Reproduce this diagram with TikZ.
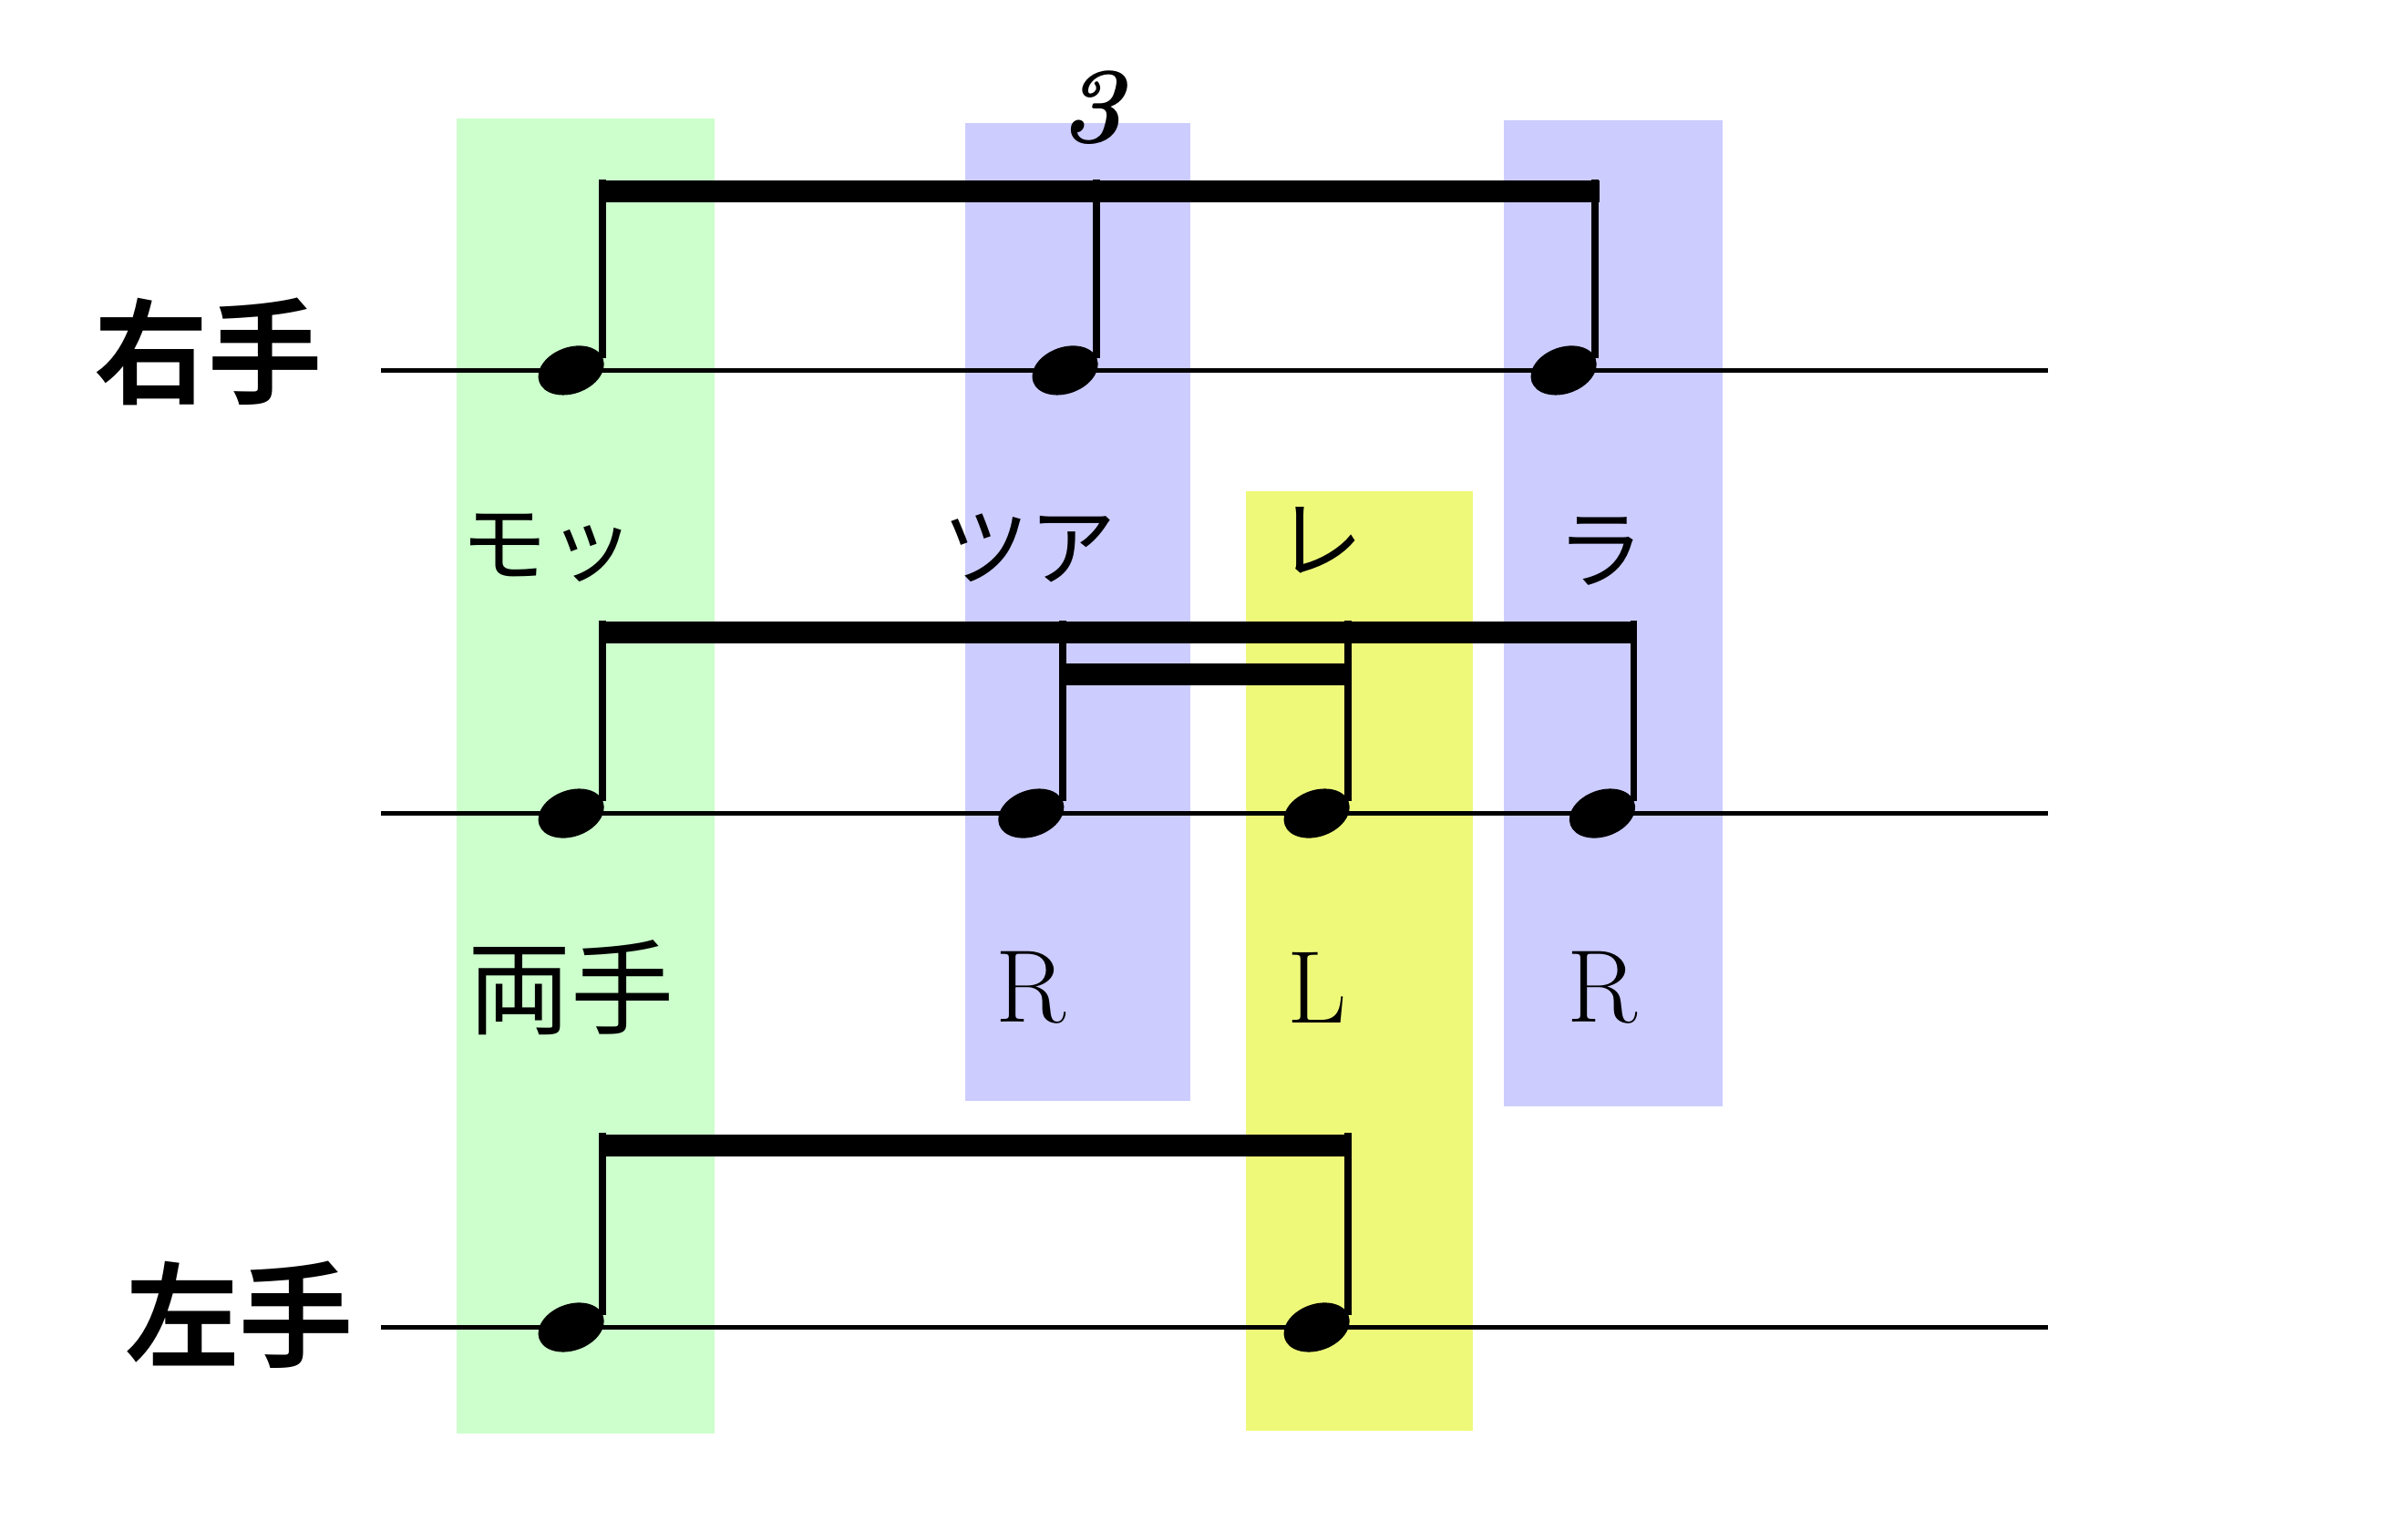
\documentclass[tikz,border=0pt]{standalone}
\usepackage{fontspec}
\newfontfamily\jpfont{Noto Sans CJK JP}
\newfontfamily\jpbold{Noto Sans CJK JP Bold}
\usetikzlibrary{shapes.geometric,positioning,calc}
\definecolor{greenband}{HTML}{CCFFCC}
\definecolor{blueband}{HTML}{CCCCFF}
\definecolor{yellowband}{HTML}{EEF97A}
\tikzset{
  notehead/.style={ellipse, fill=black, minimum width=0.44cm, minimum height=0.3cm, inner sep=0pt, rotate=20},
  stem/.style={line width=1.3pt},
  beam/.style={line width=4pt},
  staff/.style={line width=0.9pt},
  handlabel/.style={font=\jpbold\fontsize{21}{21}\selectfont},
  kana/.style={font=\jpfont\fontsize{16}{16}\selectfont},
  hand/.style={font=\fontsize{19}{19}\selectfont}
}
\begin{document}
\begin{tikzpicture}[x=0.01cm, y=-0.01cm]
    \useasboundingbox (0,0) rectangle (1560,985);
    % colour bands
    \fill[greenband] (296,77) rectangle (463,929);
    \fill[blueband] (625,80) rectangle (771,713);
    \fill[blueband] (974,78) rectangle (1116,717);
    \fill[yellowband] (807,318) rectangle (954,927);

    % staff lines
    \foreach \y in {240,527,860}
        \draw[staff] (247,\y) -- (1327,\y);

    % hand labels
    \node[handlabel] (right) at (135,228) {右手};
    \node[handlabel] (left) at (155,852) {左手};

    % right hand: triplet
    \node[notehead] (r1) at (370,240) {};
    \node[notehead] (r2) at (690,240) {};
    \node[notehead] (r3) at (1013,240) {};
    \foreach \n in {r1,r2,r3}
        \draw[stem] (\n.east) ++(-1,0) -- ++(0,-116);
    \draw[beam] (388,124) -- (1036,124);
    \node[font=\bfseries\itshape\fontsize{20}{20}\selectfont] (triplet) at (707,70) {3};

    % syllables
    \node[kana] (s1) at (355,355) {モッ};
    \node[kana] (s2) at (667,355) {ツア};
    \node[kana] (s3) at (855,350) {レ};
    \node[kana] (s4) at (1037,357) {ラ};

    % both hands
    \node[notehead] (b1) at (370,527) {};
    \node[notehead] (b2) at (668,527) {};
    \node[notehead] (b3) at (853,527) {};
    \node[notehead] (b4) at (1038,527) {};
    \foreach \n in {b1,b2,b3,b4}
        \draw[stem] (\n.east) ++(-1,0) -- ++(0,-117);
    \draw[beam] (388,410) -- (1060,410);
    \draw[beam] (688,437) -- (875,437);

    % sticking
    \node[font=\jpfont\fontsize{19}{19}\selectfont] (h1) at (370,640) {両手};
    \node[hand] (h2) at (668,640) {R};
    \node[hand] (h3) at (853,640) {L};
    \node[hand] (h4) at (1038,640) {R};

    % left hand
    \node[notehead] (l1) at (370,860) {};
    \node[notehead] (l2) at (853,860) {};
    \foreach \n in {l1,l2}
        \draw[stem] (\n.east) ++(-1,0) -- ++(0,-118);
    \draw[beam] (388,742) -- (875,742);
\end{tikzpicture}
\end{document}
